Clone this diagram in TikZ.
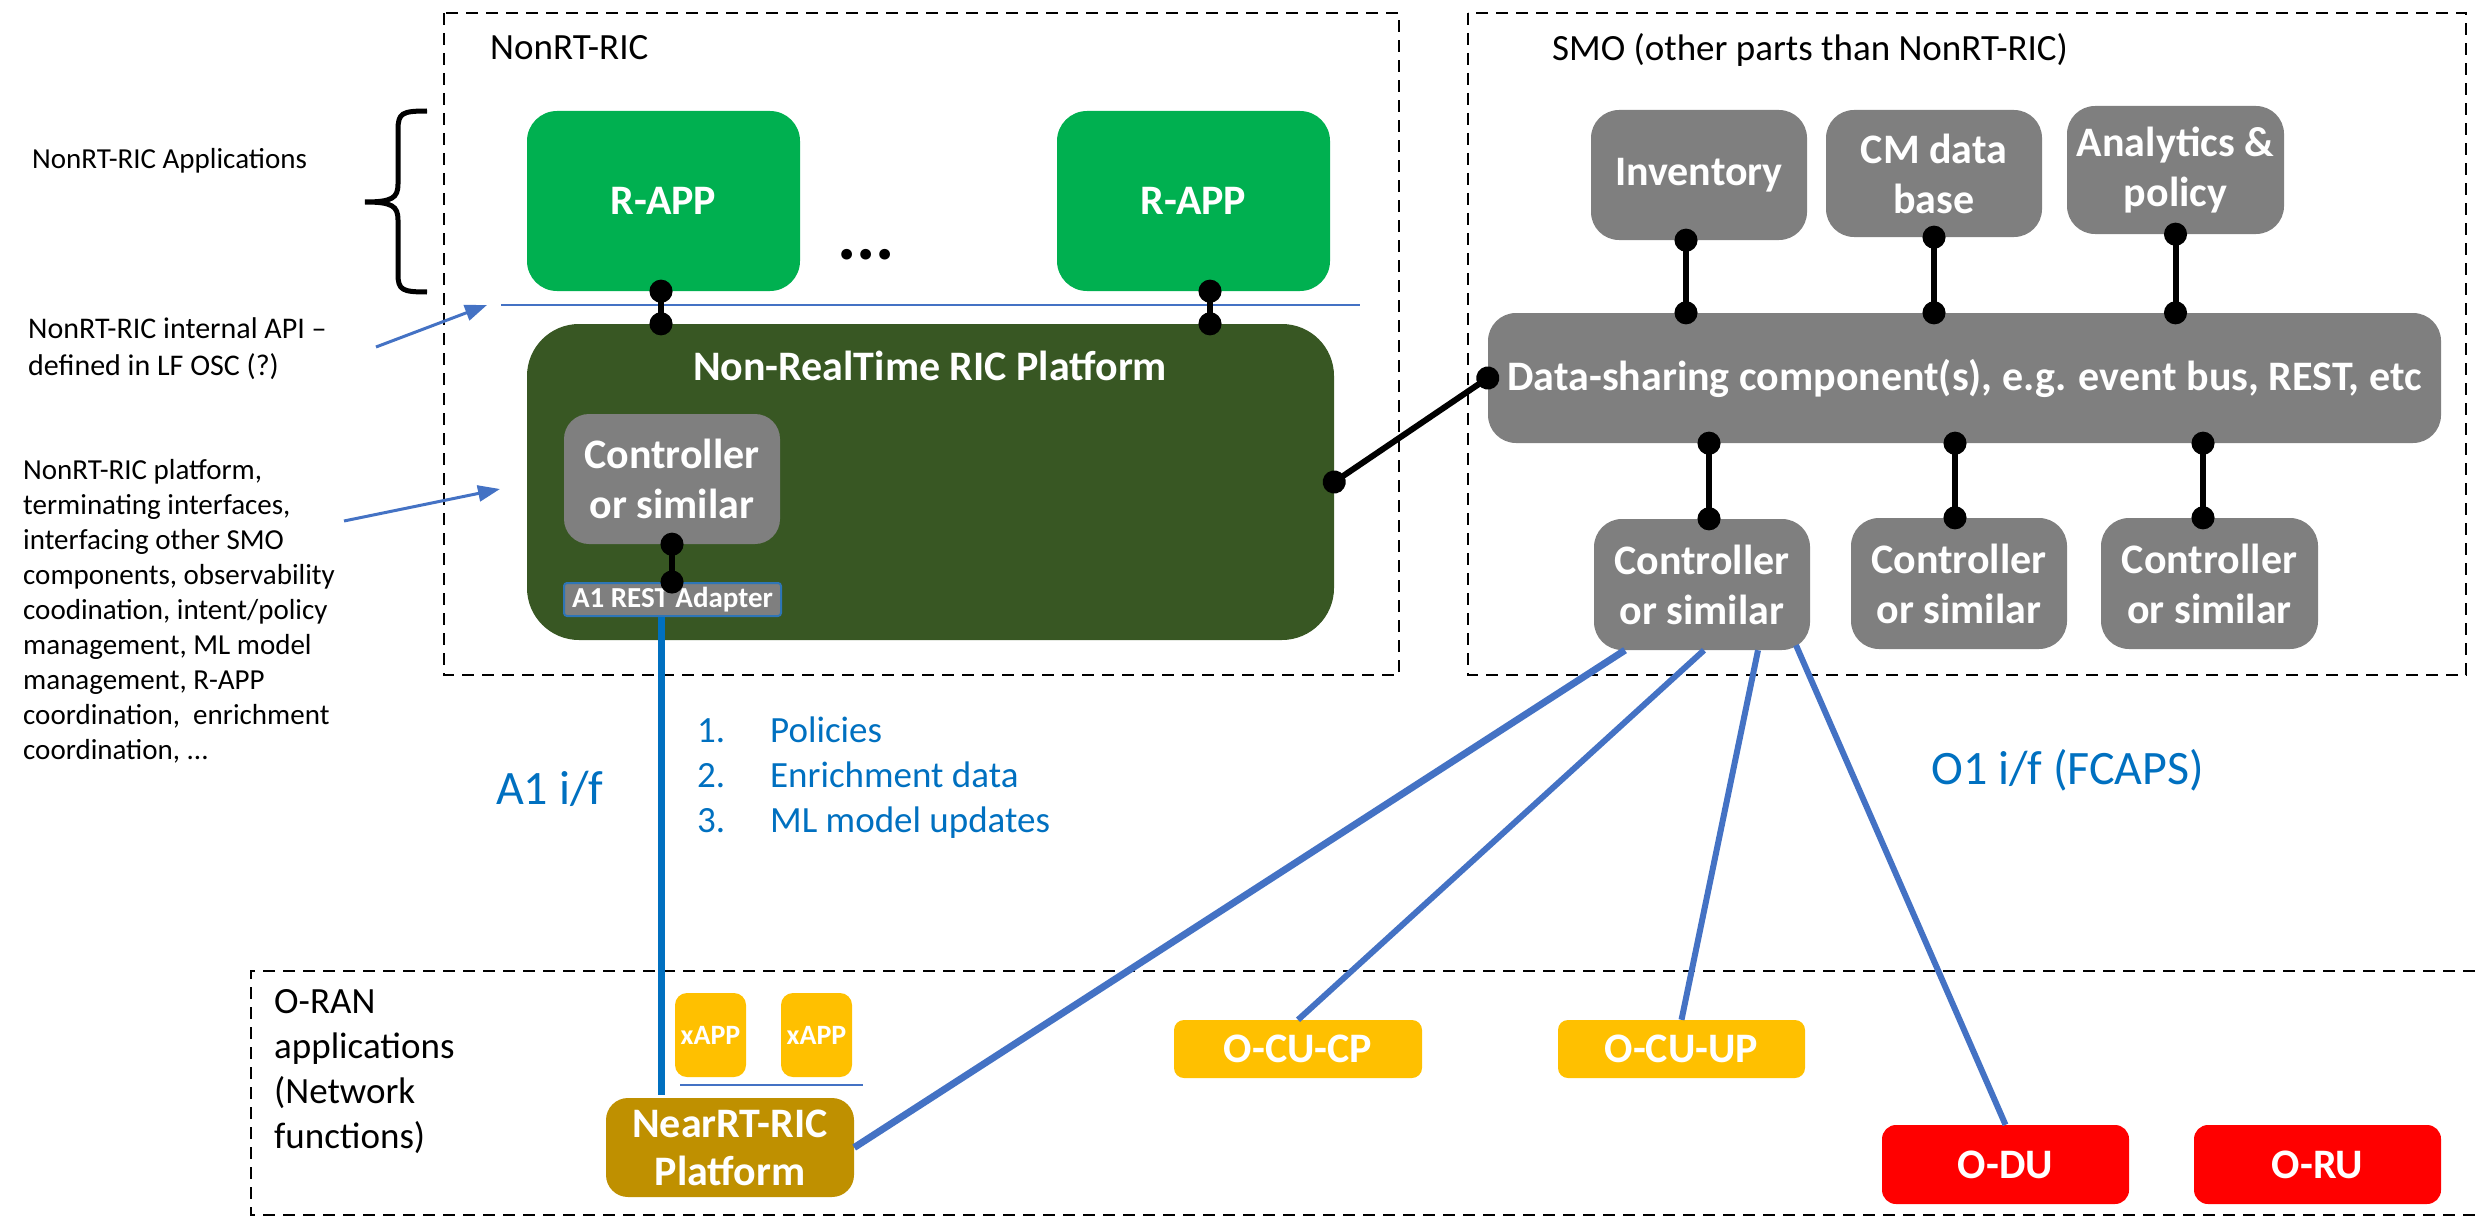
\documentclass[tikz,border=0pt]{standalone}
\usepackage{fontspec}
\setmainfont{Carlito}
\usetikzlibrary{arrows.meta}

\definecolor{rappgreen}{HTML}{00B050}
\definecolor{platgreen}{HTML}{385723}
\definecolor{boxgray}{HTML}{7F7F7F}
\definecolor{amber}{HTML}{FFC000}
\definecolor{darkgold}{HTML}{BF9000}
\definecolor{linkblue}{HTML}{4472C4}
\definecolor{textblue}{HTML}{0070C0}
\definecolor{edgeblue}{HTML}{2E75B6}

\begin{document}
\begin{tikzpicture}[x=1pt,y=-1pt,
  blk/.style={text=white, inner sep=0pt, align=center,
    font=\fontsize{42}{50}\selectfont\bfseries},
  smallblk/.style={text=white, inner sep=0pt, align=center,
    font=\fontsize{28}{32}\selectfont\bfseries},
  region/.style={draw=black, line width=2.6pt, dash pattern=on 12pt off 8pt},
  regiontitle/.style={inner sep=0pt, anchor=west, font=\fontsize{37}{45}\selectfont},
  note/.style={inner sep=0pt, anchor=west, align=left, font=\fontsize{29}{35}\selectfont},
  iflabel/.style={inner sep=0pt, anchor=west, text=textblue, font=\fontsize{48}{56}\selectfont},
  conn/.style={line width=6pt, {Circle[length=23pt,width=23pt]}-{Circle[length=23pt,width=23pt]},
    shorten <=-11.5pt, shorten >=-11.5pt},
  pointer/.style={draw=linkblue, line width=3pt, -{Triangle[length=22pt,width=16pt]}},
  apiline/.style={draw=linkblue, line width=2pt},
  oneline/.style={draw=linkblue, line width=6pt},
  a1line/.style={draw=textblue, line width=7pt}
]
\useasboundingbox (0,0) rectangle (2483,1217);

% dashed regions
\draw[region] (444,13) rectangle (1399,675);
\draw[region] (1468,13) rectangle (2466,675);
\draw[region] (2495,971) -- (251,971) -- (251,1215) -- (2495,1215);

\node[regiontitle] (nonrttitle) at (490,48) {NonRT-RIC};
\node[regiontitle] (smotitle) at (1552,50) {SMO (other parts than NonRT-RIC)};
\node[regiontitle, align=left] (orantitle) at (274,1072) {O-RAN\\applications\\(Network\\functions)};

% left-hand notes
\node[note] (appsnote) at (32,161) {NonRT-RIC Applications};
\node[note, font=\fontsize{30}{37}\selectfont] (apinote) at (28,349) {NonRT-RIC internal API –\\defined in LF OSC (?)};
\node[note] (platnote) at (23,611) {NonRT-RIC platform,\\terminating interfaces,\\interfacing other SMO\\components, observability\\coodination, intent/policy\\management, ML model\\management, R-APP\\coordination,\ \ enrichment\\coordination, ...};

% brace grouping the applications
\draw[line width=5pt] (427,111) .. controls (402,111) and (398,113) .. (398,130)
  -- (398,184) .. controls (398,198) and (392,202) .. (365,202)
  .. controls (392,202) and (398,206) .. (398,220)
  -- (398,274) .. controls (398,290) and (402,292) .. (427,292);

% NonRT-RIC internals
\node[blk, fill=rappgreen, rounded corners=30pt, minimum width=273pt, minimum height=180pt] (rapp1) at (663.5,201) {R-APP};
\node[blk, fill=rappgreen, rounded corners=30pt, minimum width=273pt, minimum height=180pt] (rapp2) at (1193.5,201) {R-APP};
\node[inner sep=0pt, anchor=base, font=\fontsize{72}{72}\selectfont\bfseries] (moreapps) at (866,259) {...};

\coordinate (apiL) at (501,305);
\coordinate (apiR) at (1360,305);
\draw[apiline] (apiL) -- (apiR);

\node[blk, fill=platgreen, rounded corners=52pt, minimum width=807pt, minimum height=316pt] (plat) at (930.5,482) {};
\node[blk] (plattitle) at (930,366) {Non-RealTime RIC Platform};
\node[blk, fill=boxgray, rounded corners=25pt, minimum width=216pt, minimum height=130pt] (ctrl0) at (672,479) {Controller\\or similar};
\node[fill=boxgray, draw=edgeblue, line width=2pt, rounded corners=3pt, minimum width=217pt, minimum height=33pt,
  text=white, inner sep=0pt, font=\fontsize{29}{33}\selectfont\bfseries] (adapter) at (672.5,599.5) {A1 REST Adapter};

\draw[conn] ([xshift=-2.5pt]rapp1.south) -- ([xshift=-2.5pt]rapp1.south |- plat.north);
\draw[conn] ([xshift=16.5pt]rapp2.south) -- ([xshift=16.5pt]rapp2.south |- plat.north);
\draw[conn] (ctrl0.south) -- (ctrl0.south |- adapter.north);

% pointers from the notes
\coordinate (apiTail) at (376,347);
\coordinate (apiTip) at (487,305);
\draw[pointer] (apiTail) -- (apiTip);
\coordinate (platTail) at (344,521);
\coordinate (platTip) at (500,489);
\draw[pointer] (platTail) -- (platTip);

% SMO components
\node[blk, fill=boxgray, rounded corners=28pt, minimum width=216pt, minimum height=130pt] (inv) at (1699,175) {Inventory};
\node[blk, fill=boxgray, rounded corners=28pt, minimum width=216pt, minimum height=127pt] (cmdb) at (1934,173.5) {CM data\\base};
\node[blk, fill=boxgray, rounded corners=28pt, minimum width=217pt, minimum height=128pt] (anal) at (2175.5,170) {Analytics \&\\policy};
\node[blk, fill=boxgray, rounded corners=28pt, minimum width=953pt, minimum height=130pt] (data) at (1964.5,378) {Data-sharing component(s), e.g. event bus, REST, etc};
\node[blk, fill=boxgray, rounded corners=28pt, minimum width=216pt, minimum height=131pt] (c1) at (1702,584.5) {Controller\\or similar};
\node[blk, fill=boxgray, rounded corners=28pt, minimum width=216pt, minimum height=131pt] (c2) at (1959,583.5) {Controller\\or similar};
\node[blk, fill=boxgray, rounded corners=28pt, minimum width=217pt, minimum height=131pt] (c3) at (2209.5,583.5) {Controller\\or similar};

\draw[conn] ([xshift=-13pt]inv.south) -- ([xshift=-13pt]inv.south |- data.north);
\draw[conn] (cmdb.south) -- (cmdb.south |- data.north);
\draw[conn] (anal.south) -- (anal.south |- data.north);
\draw[conn] ([xshift=7pt]c1.north |- data.south) -- ([xshift=7pt]c1.north);
\draw[conn] ([xshift=-4pt]c2.north |- data.south) -- ([xshift=-4pt]c2.north);
\draw[conn] ([xshift=-6.5pt]c3.north |- data.south) -- ([xshift=-6.5pt]c3.north);

\draw[conn] (plat.east) -- (data.west);

% O-RAN network functions
\node[smallblk, fill=amber, rounded corners=12pt, minimum width=71pt, minimum height=84pt] (xapp1) at (710.5,1035) {xAPP};
\node[smallblk, fill=amber, rounded corners=12pt, minimum width=71pt, minimum height=84pt] (xapp2) at (816.5,1035) {xAPP};
\coordinate (xappL) at (680,1085);
\coordinate (xappR) at (863,1085);
\draw[apiline] (xappL) -- (xappR);
\node[blk, fill=darkgold, rounded corners=22pt, minimum width=248pt, minimum height=99pt, font=\fontsize{42}{48}\selectfont\bfseries] (nearrt) at (730,1147.5) {NearRT-RIC\\Platform};
\node[blk, fill=amber, rounded corners=10pt, minimum width=248pt, minimum height=58pt] (ocucp) at (1298,1049) {O-CU-CP};
\node[blk, fill=amber, rounded corners=10pt, minimum width=247pt, minimum height=58pt] (ocuup) at (1681.5,1049) {O-CU-UP};
\node[blk, fill=red, rounded corners=14pt, minimum width=247pt, minimum height=79pt] (odu) at (2005.5,1164.5) {O-DU};
\node[blk, fill=red, rounded corners=14pt, minimum width=247pt, minimum height=79pt] (oru) at (2317.5,1164.5) {O-RU};

% A1 interface
\draw[a1line] ([xshift=-11.5pt]adapter.south) -- ([xshift=-11.5pt,yshift=3pt]adapter.south |- nearrt.north);
\node[iflabel] (a1label) at (496,789) {A1 i/f};
\node[inner sep=0pt, anchor=west, align=left, text=textblue, font=\fontsize{37}{45}\selectfont] (a1list) at (697,778)
  {\makebox[73pt][l]{1.}Policies\\\makebox[73pt][l]{2.}Enrichment data\\\makebox[73pt][l]{3.}ML model updates};

% O1 interface
\draw[oneline, line width=7pt] ([xshift=-77pt]c1.south) -- (nearrt.east);
\draw[oneline] ([xshift=2pt]c1.south) -- (ocucp.north);
\draw[oneline] ([xshift=56pt]c1.south) -- (ocuup.north);
\draw[oneline] ([xshift=94pt,yshift=5pt]c1.south) -- (odu.north);
\node[iflabel] (o1label) at (1931,770) {O1 i/f (FCAPS)};
\end{tikzpicture}
\end{document}
